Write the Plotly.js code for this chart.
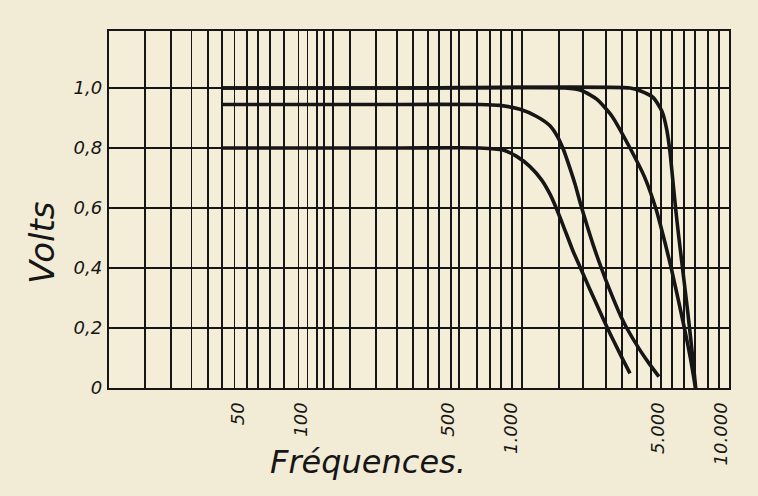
<!DOCTYPE html>
<html>
<head>
<meta charset="utf-8">
<script src="https://cdn.plot.ly/plotly-3.0.1.min.js"></script>
<style>
  html, body { margin: 0; padding: 0; background: #f2ebd5; }
  #chart { width: 758px; height: 496px; }
</style>
</head>
<body>
<div id="chart"></div>
<script>
// ---- data ----
const curveAFreq  = [42, 300, 711, 915, 1063, 1231, 1400, 1533, 1641, 1766, 1975, 2142, 2367, 2666, 2878, 3122, 3422, 3688];
const curveAVolts = [0.8, 0.8, 0.8, 0.793, 0.772, 0.738, 0.693, 0.646, 0.6, 0.544, 0.456, 0.4, 0.331, 0.251, 0.2, 0.149, 0.093, 0.049];

const curveBFreq  = [42, 300, 711, 885, 1103, 1325, 1533, 1664, 1774, 1874, 2017, 2149, 2296, 2460, 2692, 2935, 3334, 3557, 4107, 4544, 5064];
const curveBVolts = [0.945, 0.945, 0.945, 0.942, 0.929, 0.905, 0.874, 0.838, 0.796, 0.749, 0.68, 0.611, 0.544, 0.478, 0.4, 0.331, 0.239, 0.2, 0.127, 0.082, 0.038];

const curveCFreq  = [42, 300, 1808, 2178, 2568, 3027, 3688, 4329, 4890, 5166, 5797, 6700, 7155, 7568];
const curveCVolts = [1, 1, 1, 0.991, 0.962, 0.906, 0.8, 0.703, 0.6, 0.54, 0.4, 0.2, 0.1, 0];

const curveDFreq  = [42, 300, 3688, 4117, 4749, 5241, 5530, 5728, 5946, 6104, 6268, 6563, 6955, 7276, 7586];
const curveDVolts = [1, 1, 1, 0.991, 0.969, 0.922, 0.859, 0.783, 0.669, 0.59, 0.517, 0.4, 0.252, 0.127, 0];

const xTickVals = [50, 100, 500, 1000, 5000, 10000];
const xTickText = ['50', '100', '500', '1.000', '5.000', '10.000'];
const yTickVals = [0, 0.2, 0.4, 0.6, 0.8, 1.0];
const yTickText = ['0', '0,2', '0,4', '0,6', '0,8', '1,0'];

// hand-ruled vertical grid lines of the original paper (frequency values)
const gridFreqs = [18, 24, 30, 36, 42, 48, 55, 62, 71, 83, 97, 107, 119, 128, 142, 171,
                   227, 286, 341, 402, 453, 517, 565, 688, 793, 895, 1010, 1127,
                   1692, 2202, 2835, 3379, 3983, 4645, 5183, 5848, 6671, 7527, 8683, 9797];

// ---- chart ----
const ink = '#161616';
const curveStyle = { color: ink, width: 3.6, shape: 'spline', smoothing: 0.6 };
const names = ['Courbe 1', 'Courbe 2', 'Courbe 3', 'Courbe 4'];
const series = [[curveAFreq, curveAVolts], [curveBFreq, curveBVolts],
                [curveCFreq, curveCVolts], [curveDFreq, curveDVolts]];
const traces = series.map((s, i) => ({
  type: 'scatter', mode: 'lines', name: names[i],
  x: s[0], y: s[1], line: curveStyle, hoverinfo: 'skip'
}));

const tickFont = { family: 'DejaVu Sans, sans-serif', size: 18, color: ink, style: 'italic' };

const layout = {
  width: 758, height: 496,
  margin: { l: 109, r: 29, t: 31, b: 108 },
  paper_bgcolor: '#f2ebd5',
  plot_bgcolor: '#f4eed9',
  showlegend: false,
  xaxis: {
    type: 'log',
    range: [1.0835, 4.0387],
    tickmode: 'array', tickvals: xTickVals, ticktext: xTickText,
    tickangle: -90, tickfont: tickFont, ticks: '', ticklabelstandoff: 5,
    showgrid: false, zeroline: false,
    showline: true, mirror: true, linecolor: ink, linewidth: 2.2,
    minor: { tickmode: 'array', tickvals: gridFreqs, showgrid: true,
             gridcolor: ink, gridwidth: 1.8, ticks: '' }
  },
  yaxis: {
    range: [0, 1.19],
    tickmode: 'array', tickvals: yTickVals, ticktext: yTickText,
    tickfont: tickFont, ticks: '', ticklabelstandoff: 1,
    showgrid: true, gridcolor: ink, gridwidth: 2.4, zeroline: false,
    showline: true, mirror: true, linecolor: ink, linewidth: 2.2
  },
  annotations: [
    { text: 'Volts', xref: 'paper', yref: 'paper', x: -0.108, y: 0.406,
      xanchor: 'center', yanchor: 'middle',
      showarrow: false, textangle: -90,
      font: { family: 'DejaVu Sans, sans-serif', size: 34, color: ink, style: 'italic' } },
    { text: 'Fréquences.', xref: 'paper', yref: 'paper', x: 0.418, y: -0.207,
      xanchor: 'center', yanchor: 'middle',
      showarrow: false,
      font: { family: 'DejaVu Sans, sans-serif', size: 32, color: ink, style: 'italic' } }
  ]
};

Plotly.newPlot('chart', traces, layout, { staticPlot: true, displayModeBar: false });
</script>
</body>
</html>
